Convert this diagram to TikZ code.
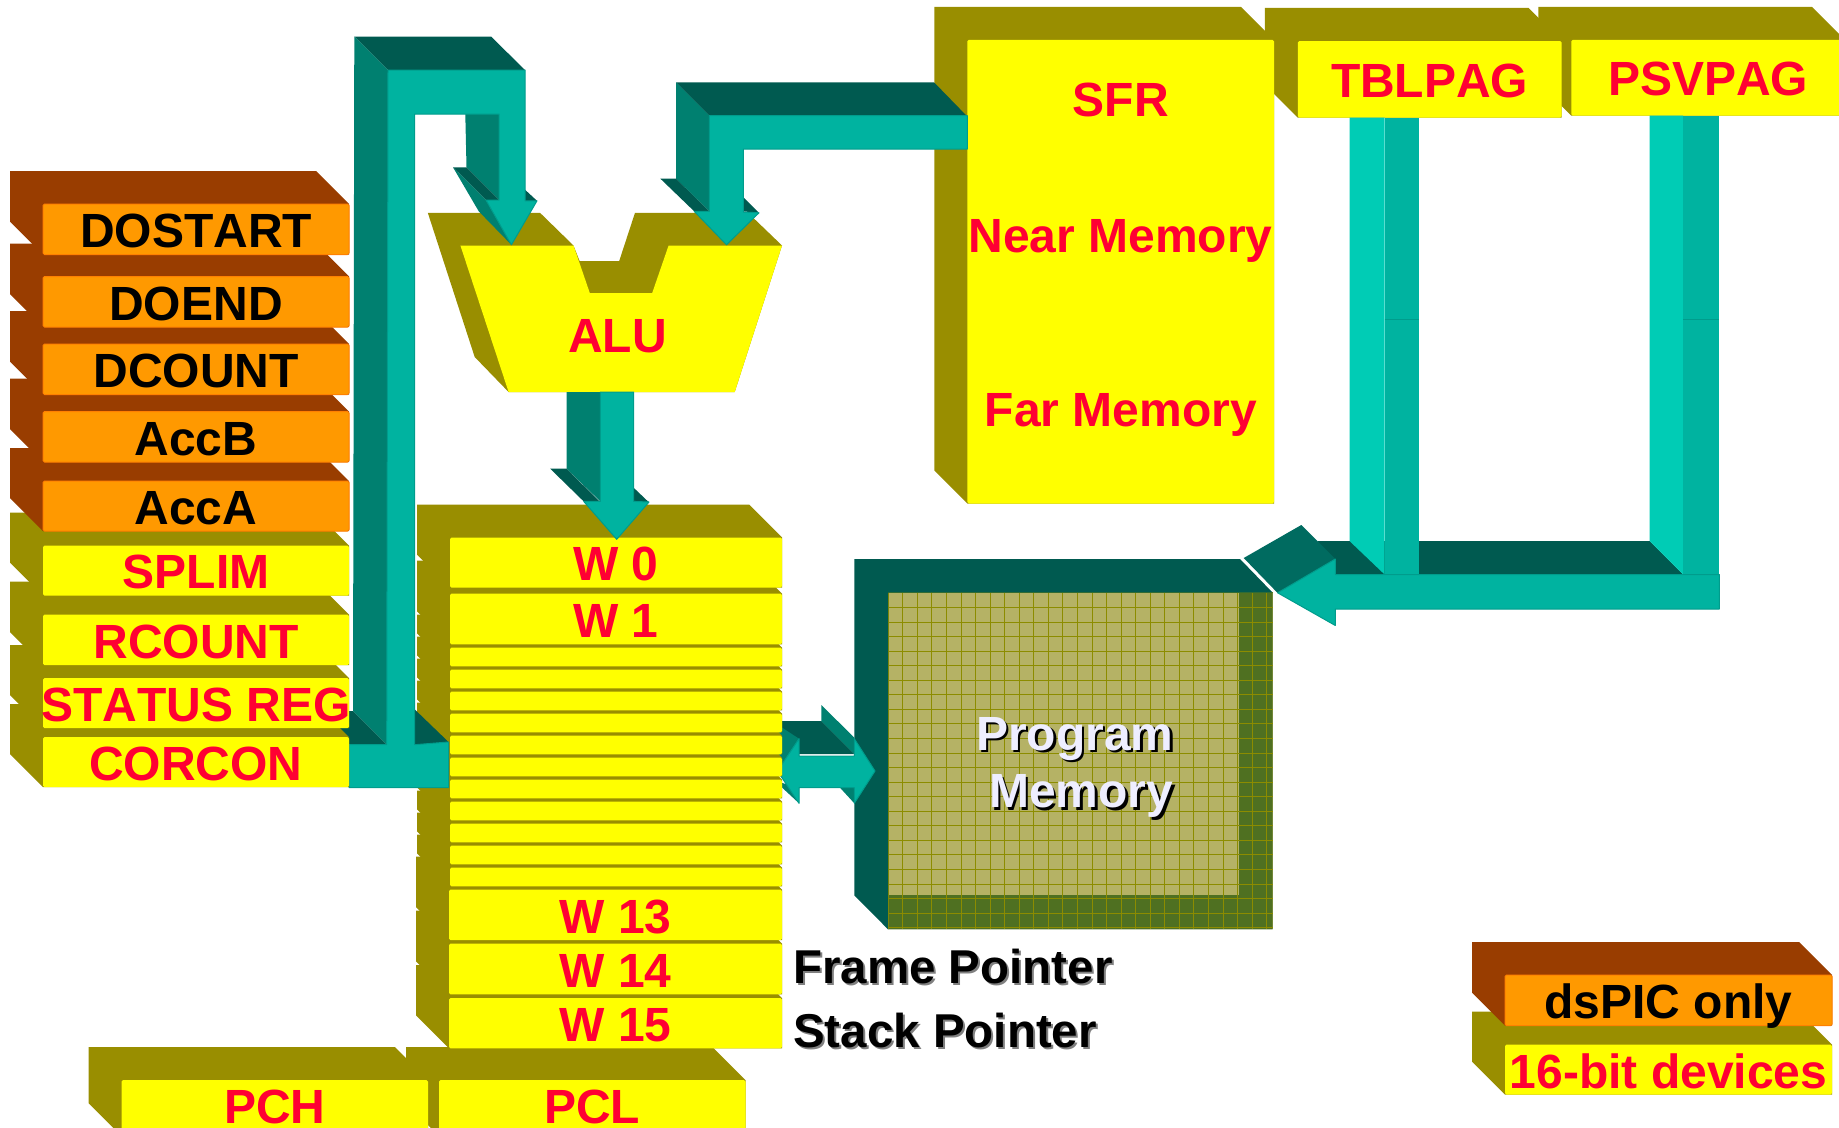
\documentclass[tikz,border=0pt]{standalone}
\usepackage{fontspec}
\setmainfont[Kerning=Off]{Liberation Sans}
\definecolor{olivedeep}{RGB}{153,142,0}
\definecolor{slabyellow}{RGB}{255,255,0}
\definecolor{slaborange}{RGB}{255,153,0}
\definecolor{orangeedge}{RGB}{255,128,0}
\definecolor{rustdeep}{RGB}{153,61,0}
\definecolor{labelred}{RGB}{255,0,51}
\definecolor{busfront}{RGB}{0,179,160}
\definecolor{busedge}{RGB}{0,156,140}
\definecolor{busside}{RGB}{0,128,112}
\definecolor{bustop}{RGB}{0,90,80}
\definecolor{bushead}{RGB}{0,107,96}
\definecolor{buslight}{RGB}{0,204,181}
\definecolor{memfield}{RGB}{181,178,101}
\definecolor{memdeep}{RGB}{79,112,33}
\definecolor{memgrid}{RGB}{140,140,0}
\definecolor{memtext}{RGB}{238,238,255}
\usepackage{tikz}
\usetikzlibrary{calc}
\tikzset{
  labelfont/.style={font=\fontsize{48}{54}\selectfont\bfseries, inner sep=0pt, anchor=base},
  yellowside/.style={fill=olivedeep},
  yellowfront/.style={fill=slabyellow, rounded corners=1.5pt},
  yellowlabel/.style={labelfont, text=labelred},
  orangeside/.style={fill=rustdeep},
  orangefront/.style={fill=slaborange, draw=orangeedge, line width=1pt, rounded corners=1.5pt},
  orangelabel/.style={labelfont, text=black},
  frontface/.style={fill=busfront, draw=busedge, line width=1pt, line join=round},
  sideface/.style={fill=busside},
  topface/.style={fill=bustop},
  gridline/.style={draw=memgrid, line width=0.6pt},
}
\newcommand{\regslab}[9]{%
  \fill[#1side] (#3-33,#4-33) -- (#5-33,#4-33) -- (#5,#4) -- (#5,#6) -- (#3,#6) -- (#3-33,#6-33) -- cycle;
  \path[#1front] (#3,#4) rectangle (#5,#6);
  \node[#1label] (#2) at ({(#3+#5)/2},#6-#7) {#8#9};
}
\newcommand{\castshadow}[3]{\leavevmode\rlap{\hspace{#2}\raisebox{-#2}{\textcolor{#1}{#3}}}#3}
\begin{document}
\begin{tikzpicture}[x=1pt,y=-1pt]
  \useasboundingbox (0,-1) rectangle (1839,1126);
  \clip (0,-1) rectangle (1839,1126);
  \regslab{yellow}{psvpag}{1571.4}{38.8}{1845}{114.7}{20}{PSVPAG}{}
  \regslab{yellow}{tblpag}{1297.8}{40}{1561.5}{116.7}{20}{TBLPAG}{}
  \regslab{yellow}{sfr}{967.3}{38.8}{1274}{502.5}{387.5}{SFR}{}
  \node[yellowlabel] (nearmem) at (1120.5,251) {Near Memory};
  \node[yellowlabel] (farmem) at (1121,425) {Far Memory};
  % page bus
  \fill[topface] (1317.5,540) -- (1649.5,540) -- (1683,573.5) -- (1335,573.5) -- cycle;
  \foreach \xa/\xb/\xc/\ytop in {1349.5/1384.6/1418.6/116.7, 1649.5/1683/1719.4/114.7} {
    \fill[buslight] (\xa,\ytop) -- (\xb,\ytop) -- (\xb,573.5) -- (\xa,540) -- cycle;
    \fill[busfront] (\xb,\ytop) rectangle (\xc,573.5);
    \draw[busedge, line width=1pt] (\xb,318) -- (\xc,318);
  }
  \fill[bushead] (1243.7,557) -- (1301.3,524) -- (1335.3,558) -- (1277.6,592) -- cycle;
  \path[frontface] (1277.6,591.8) -- (1335.3,558) -- (1335.3,573.5) -- (1719.4,573.5) -- (1719.4,608) -- (1335.3,608) -- (1335.3,624.5) -- cycle;
  % program memory
  \fill[memfield] (888,591.7) rectangle (1272.7,928.3);
  \fill[memdeep] (1239,591.7) -- (1272.7,591.7) -- (1272.7,928.3) -- (888,928.3) -- (888,894) -- (1239,894) -- cycle;
  \foreach \gx in {0,...,26} {
    \draw[gridline] ({888+14.56*\gx},591.7) -- ({888+14.56*\gx},928.3);
  }
  \foreach \gy in {0,...,23} {
    \draw[gridline] (888,{591.7+14.56*\gy}) -- (1272.7,{591.7+14.56*\gy});
  }
  \fill[topface] (854.3,558) -- (1240,558) -- (1272.7,591.7) -- (888,591.7) -- (888,928.3) -- (854.3,894.3) -- cycle;
  \node[labelfont, text=memtext] (program) at (1074.7,749.3) {\castshadow{black}{2.5pt}{Program}};
  \node[labelfont, text=memtext] (memory) at (1081.3,806.7) {\castshadow{black}{2.5pt}{Memory}};
  % data bus to program memory
  \fill[topface] (775,720) -- (821.4,720) -- (854.3,753) -- (799,753) -- cycle;
  \fill[sideface] (821.4,704) -- (854.3,736.7) -- (854.3,753) -- (821.4,720) -- cycle;
  \fill[sideface] (775,722) -- (799,737.7) -- (777.5,770) -- cycle;
  \fill[sideface] (775,780) -- (799,802.3) -- (799,786.7) -- cycle;
  \fill[sideface] (840,786.7) -- (854.3,802.3) -- (854.3,786.7) -- cycle;
  \path[frontface] (777.5,770) -- (799,737.7) -- (799,755) -- (854.3,755) -- (854.3,737.7) -- (875,770) -- (854.3,802.3) -- (854.3,786.7) -- (799,786.7) -- (799,802.3) -- cycle;
  % program counter
  \regslab{yellow}{pcl}{439}{1079}{745.5}{1135}{13}{PCL}{}
  \regslab{yellow}{pch}{121.5}{1079}{428}{1135}{13}{PCH}{}
  % working registers
  \regslab{yellow}{wf}{449}{997}{782}{1047.3}{7}{W 15}{}
  \regslab{yellow}{we}{449}{942.7}{782}{993.3}{7}{W 14}{}
  \regslab{yellow}{wd}{449}{888.7}{782}{939}{7}{W 13}{}
  \foreach \nm/\ya/\yb in {wc/866.7/885.3, wb/844.7/863.3, wa/822.7/841.3, wn/800.7/819.3, wm/778.7/797.3, wl/756.7/775.3, wk/734.7/753.3, wj/712.7/731.3, wi/690.7/709.3, wh/668.7/687.3, wg/646.7/665.3} {
    \regslab{yellow}{\nm}{450}{\ya}{782}{\yb}{7}{}{}
  }
  \regslab{yellow}{wone}{450}{592.7}{782}{643.3}{7}{W 1}{}
  \regslab{yellow}{wzero}{450}{536.5}{782}{586.7}{7}{W 0}{}
  % alu
  \fill[yellowside] (427.8,211.8) -- (540,211.8) -- (573.5,244.5) -- (579.6,260) -- (619.2,260) -- (635,211.8) -- (748,211.8) -- (782,244.5) -- (734.7,391) -- (508.6,391) -- (474.7,356) -- cycle;
  \fill[slabyellow] (460.4,244.5) -- (573.5,244.5) -- (589.8,292) -- (652.2,292) -- (668.6,244.5) -- (782,244.5) -- (734.7,391) -- (508.6,391) -- cycle;
  \node[yellowlabel] (alu) at (617.5,351.6) {ALU};
  % alu to working registers
  \fill[sideface] (566.5,391) -- (600.4,391) -- (600.4,500.4) -- (566.5,467.7) -- cycle;
  \fill[topface] (550.2,467.7) -- (566.5,467.7) -- (599.6,500.4) -- (583.7,500.4) -- cycle;
  \fill[topface] (633.5,486.6) -- (649,501.4) -- (633.5,500.4) -- cycle;
  \path[frontface] (600.4,391) -- (633.5,391) -- (633.5,500.4) -- (649,501) -- (616.7,538.3) -- (583.7,500.4) -- (600.4,500.4) -- cycle;
  % memory to alu
  \fill[topface] (676,81.3) -- (934,81.3) -- (966.5,114.7) -- (709.4,114.7) -- cycle;
  \fill[sideface] (676,81.3) -- (709.4,114.7) -- (709.4,210.4) -- (676,177.7) -- cycle;
  \fill[topface] (660.4,177.7) -- (676,177.7) -- (709.4,210.4) -- (694.3,210.4) -- cycle;
  \fill[topface] (743.3,196.3) -- (759,211.8) -- (743.3,210.4) -- cycle;
  \path[frontface] (709.4,114.7) -- (967.3,114.7) -- (967.3,148) -- (743.3,148) -- (743.3,211) -- (759,211.8) -- (726.5,243.8) -- (694.3,210.4) -- (709.4,210.4) -- cycle;
  % registers to alu
  \fill[topface] (354.3,35.5) -- (491,35.5) -- (525,69) -- (388,69) -- cycle;
  \fill[sideface] (354.3,35.5) -- (388,69) -- (386.7,743.7) -- (353,710) -- cycle;
  \fill[sideface] (465.3,113) -- (499,113) -- (499,199) -- (466.5,166.3) -- cycle;
  \fill[topface] (453,166.3) -- (466.5,166.3) -- (499,199) -- (486,199) -- cycle;
  \fill[topface] (525,188.7) -- (537,199.8) -- (525,199.8) -- cycle;
  \fill[sideface] (453,166.3) -- (486,199) -- (511.4,243.8) -- (478.8,210.4) -- cycle;
  \fill[topface] (316,710) -- (353,710) -- (386.7,743.7) -- (349,743.7) -- cycle;
  \fill[topface] (414.3,708) -- (448.5,741) -- (414.3,744) -- cycle;
  \path[frontface] (388,69) -- (525,69) -- (525,199.8) -- (537,199.8) -- (511.4,243.8) -- (486,199) -- (499,199) -- (499,113) -- (414.7,113) -- (414.7,743.7) -- (448.5,741) -- (448.5,786.5) -- (349,786.5) -- (349,743.7) -- (386.7,743.7) -- cycle;
  % left register stack
  \foreach \nm/\ya/\yb/\lab in {corcon/736/786/CORCON, status/677/727/STATUS REG, rcount/613.5/664/RCOUNT, splim/544.5/594.7/SPLIM} {
    \regslab{yellow}{\nm}{43}{\ya}{349}{\yb}{7}{\lab}{}
  }
  \foreach \nm/\ya/\yb/\lab in {acca/480/530/AccA, accb/410.6/461/AccB, dcount/343/393.5/DCOUNT, doend/275.5/326/DOEND, dostart/203/253.5/DOSTART} {
    \regslab{orange}{\nm}{43}{\ya}{349}{\yb}{7}{\lab}{}
  }
  \node[labelfont, anchor=base west] (frameptr) at (793,982.7) {\fontsize{47.5}{54}\selectfont\castshadow{black!50}{2pt}{Frame Pointer}};
  \node[labelfont, anchor=base west] (stackptr) at (793,1046.7) {\fontsize{47.5}{54}\selectfont\castshadow{black!50}{2pt}{Stack Pointer}};
  % legend
  \regslab{yellow}{legbit}{1505}{1043.7}{1832}{1093.7}{6}{16-bit devices}{}
  \regslab{orange}{legpic}{1505}{974}{1832}{1024.7}{7}{dsPIC only}{}
\end{tikzpicture}
\end{document}
